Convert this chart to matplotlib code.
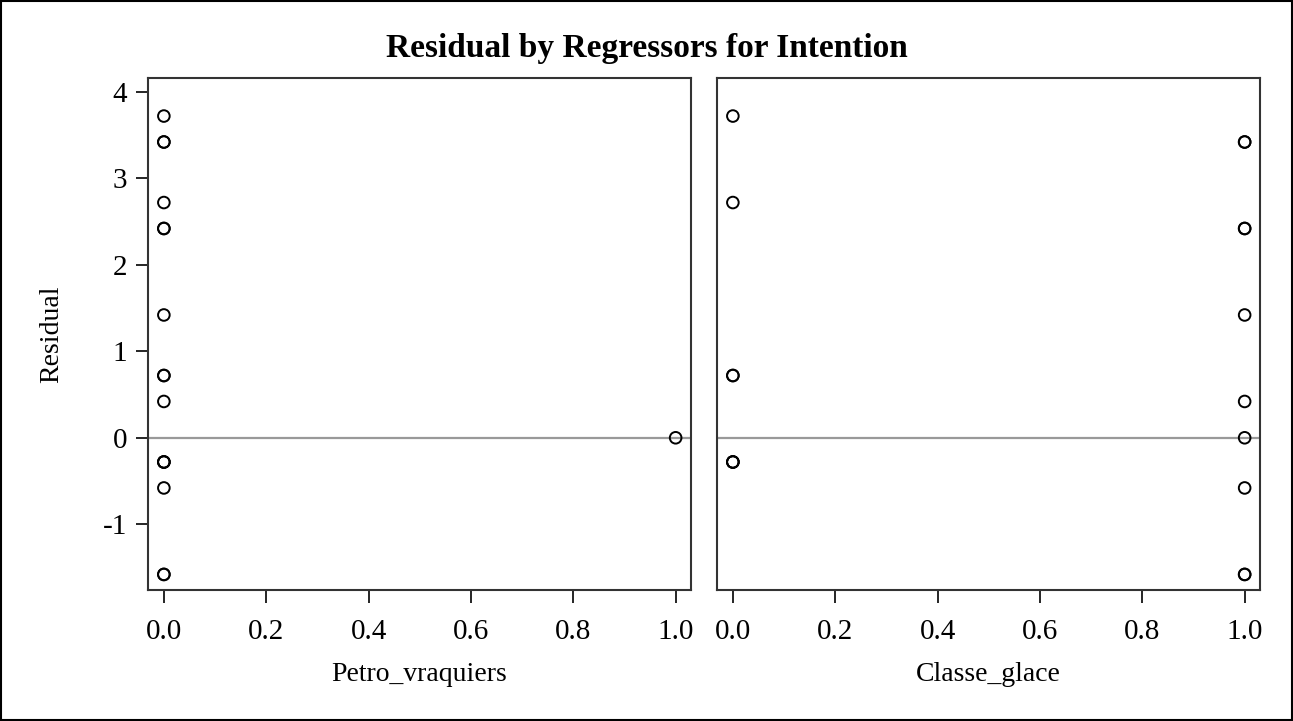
import numpy as np
import matplotlib
matplotlib.use('Agg')
import matplotlib.pyplot as plt
from matplotlib.patches import Rectangle

plt.rcParams['font.family'] = ['Liberation Serif', 'DejaVu Serif']
plt.rcParams['axes.unicode_minus'] = False

# observations: regressor values and residuals
petro_vraquiers = [0, 0, 0, 0, 0, 0, 0, 0, 0, 0, 0, 0, 0, 0, 0, 0, 1]
classe_glace = [0, 1, 1, 0, 1, 1, 1, 0, 0, 1, 0, 0, 1, 1, 1, 0, 1]
residual = [3.72, 3.42, 3.42, 2.72, 2.42, 2.42, 1.42, 0.72, 0.72, 0.42,
            -0.28, -0.28, -0.58, -1.58, -1.58, -0.28, 0.0]
regressors = [('Petro_vraquiers', petro_vraquiers), ('Classe_glace', classe_glace)]
yticks = [-1, 0, 1, 2, 3, 4]
xticks = [0.0, 0.2, 0.4, 0.6, 0.8, 1.0]

fig = plt.figure(figsize=(12.93, 7.21), dpi=100)
fig.patches.append(Rectangle((0.001, 0.001), 0.998, 0.997, transform=fig.transFigure,
                             fill=False, edgecolor='black', linewidth=1.5))

W, H = 1293, 721
lefts = [148, 717]
pw = 543
top, bottom = 78, 590
for i, (name, xs) in enumerate(regressors):
    ax = fig.add_axes([lefts[i] / W, 1 - bottom / H, pw / W, (bottom - top) / H])
    ax.axhline(0, color='#999999', linewidth=1.6, zorder=1)
    ax.scatter(xs, residual, s=70, facecolors='none', edgecolors='black',
               linewidths=1.4, zorder=3)
    ax.set_xlim(-0.031, 1.03)
    ax.set_ylim(-1.76, 4.16)
    ax.set_xticks(xticks)
    ax.set_xticklabels([f'{t:.1f}' for t in xticks])
    ax.set_xlabel(name, fontsize=20, labelpad=12)
    for sp in ax.spines.values():
        sp.set_linewidth(1.5)
        sp.set_color('#333333')
    ax.tick_params(axis='both', direction='out', length=9, width=1.2,
                   labelsize=21, pad=6)
    ax.tick_params(axis='x', pad=12)
    if i == 0:
        ax.set_yticks(yticks)
        ax.set_ylabel('Residual', fontsize=20, labelpad=28)
    else:
        ax.set_yticks([])

fig.text(0.5, 1 - 48 / H, 'Residual by Regressors for Intention', ha='center',
         va='center', fontsize=24, fontweight='bold')

fig.savefig('out.png', dpi=100)
